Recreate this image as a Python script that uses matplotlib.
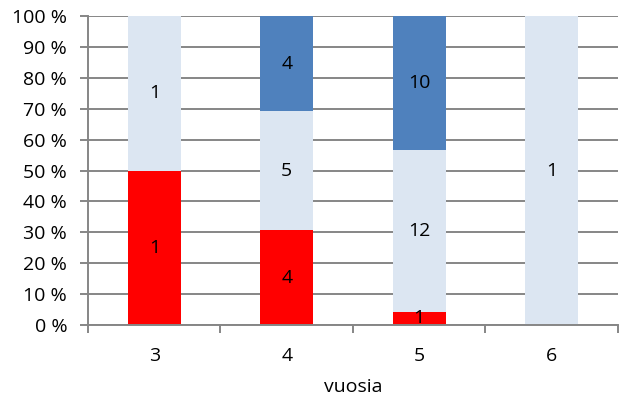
import numpy as np
import matplotlib.pyplot as plt
from matplotlib.ticker import FuncFormatter

plt.rcParams['font.family'] = ['Open Sans', 'DejaVu Sans']

# Data
categories = ['3', '4', '5', '6']
red_vals = np.array([1, 4, 1, 0])
light_vals = np.array([1, 5, 12, 1])
blue_vals = np.array([0, 4, 10, 0])

series = [(red_vals, '#FF0000'), (light_vals, '#DCE6F2'), (blue_vals, '#4F81BD')]
totals = red_vals + light_vals + blue_vals

fig = plt.figure(figsize=(6.22, 4.04), dpi=100)
ax = fig.add_axes([0.1415, 0.1955, 0.852, 0.7645])

fs = 14
x = np.arange(len(categories))
bottom = np.zeros(len(categories))
for vals, color in series:
    pct = vals / totals * 100
    ax.bar(x, pct, width=0.4, bottom=bottom, color=color, zorder=2)
    for xi, v, p, b in zip(x, vals, pct, bottom):
        if v > 0:
            ax.text(xi, b + p / 2, str(v), ha='center', va='center', fontsize=fs, zorder=3)
    bottom += pct

ax.set_xlim(-0.5, len(categories) - 0.5)
ax.set_ylim(0, 100)
ax.set_yticks(np.arange(0, 101, 10))
ax.yaxis.set_major_formatter(FuncFormatter(lambda v, _: f'{int(v)} %'))
ax.grid(axis='y', color='#868686', linewidth=1.4, zorder=0)

ax.set_xticks(x)
ax.set_xticklabels(categories)
ax.set_xticks(np.arange(-0.5, len(categories), 1), minor=True)
ax.tick_params(axis='x', which='major', length=0, pad=16, labelsize=fs)
ax.tick_params(axis='x', which='minor', length=6, color='#868686', width=1.4)
ax.tick_params(axis='y', length=6, color='#868686', width=1.4, labelsize=fs, pad=9)

for s in ['top', 'right']:
    ax.spines[s].set_visible(False)
for s in ['left', 'bottom']:
    ax.spines[s].set_color('#868686')
    ax.spines[s].set_linewidth(1.4)

ax.set_xlabel('vuosia', fontsize=fs, labelpad=9)

plt.savefig('out.png', dpi=100)
